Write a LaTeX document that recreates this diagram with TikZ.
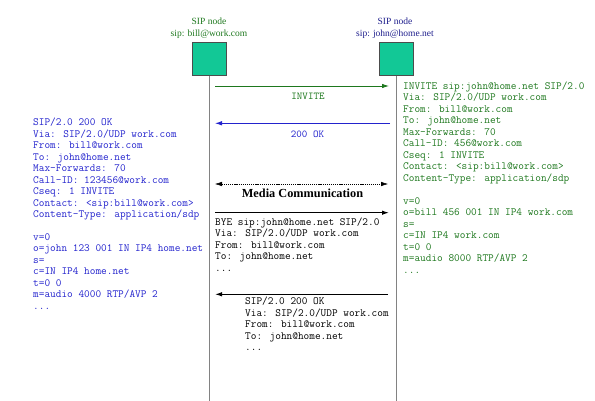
\documentclass[tikz,border=0pt]{standalone}
\usepackage{fontspec}
\setmainfont{Liberation Serif}
\usetikzlibrary{arrows.meta}
\definecolor{boxfill}{RGB}{18,200,150}
\definecolor{sipgreen}{RGB}{30,120,30}
\definecolor{sipblue}{RGB}{35,35,205}
\definecolor{labblue}{RGB}{30,30,140}
\definecolor{lifegray}{RGB}{130,130,130}
\newcommand\mydots{.\kern0pt.\kern0pt.}
\begin{document}
\begin{tikzpicture}[x=1pt,y=-1pt,
  sipbox/.style={draw=black!70, line width=0.6pt, fill=boxfill, minimum width=34pt, minimum height=33pt, inner sep=0pt},
  nodelabel/.style={font=\fontsize{9.5}{11}\selectfont, inner sep=0pt, anchor=base},
  code/.style={font=\fontsize{11}{12}\selectfont\ttfamily, inner sep=0pt, anchor=base west},
  msglabel/.style={font=\fontsize{10.5}{12}\selectfont\ttfamily, inner sep=0pt, anchor=base},
  lifeline/.style={draw=lifegray, line width=0.9pt},
  msg/.style={line width=0.8pt, -{Latex[length=7pt,width=4.5pt]}},
]
\useasboundingbox (0,0) rectangle (595,401);

% SIP nodes
\node[sipbox] (bill) at (209.5,59.3) {};
\node[sipbox] (john) at (396.3,59.3) {};
\node[nodelabel, text=sipgreen] (billtitle) at (209,25) {SIP node};
\node[nodelabel, text=sipgreen] (billaddr) at (209,36.5) {sip: bill@work.com};
\node[nodelabel, text=labblue] (johntitle) at (395,25) {SIP node};
\node[nodelabel, text=labblue] (johnaddr) at (395,36.5) {sip: john@home.net};

% lifelines
\coordinate (billend) at (209.5,401);
\coordinate (johnend) at (396.3,401);
\draw[lifeline] (bill.south) -- (billend);
\draw[lifeline] (john.south) -- (johnend);

% INVITE
\coordinate (inv1) at (215,86);
\coordinate (inv2) at (389,86);
\draw[msg, sipgreen] (inv1) -- (inv2);
\node[msglabel, text=sipgreen] (invlab) at (308,100) {INVITE};

% 200 OK
\coordinate (ok1) at (390,123.3);
\coordinate (ok2) at (215,123.3);
\draw[msg, sipblue] (ok1) -- (ok2);
\node[msglabel, text=sipblue] (oklab) at (307.5,137.5) {200 OK};

% Media communication
\coordinate (med1) at (215,184);
\coordinate (med2) at (388,184);
\draw[line width=0.45pt, dash pattern=on 1.2pt off 0.9pt, {Latex[length=7pt,width=4.5pt]}-{Latex[length=7pt,width=4.5pt]}] (med1) -- (med2);
\node[inner sep=0pt, anchor=base, font=\fontsize{12.3}{14}\selectfont\bfseries] (medlab) at (302.5,197.5) {Media Communication};

% BYE
\coordinate (bye1) at (215,212.7);
\coordinate (bye2) at (389,212.7);
\draw[msg, line width=1.1pt] (bye1) -- (bye2);
\foreach \t [count=\i from 0] in {BYE sip:john@home.net SIP/2.0, Via: SIP/2.0/UDP work.com, From: bill@work.com, To: john@home.net}
  \node[code] (bye\i) at (215,225.2+\i*11.5) {\t};
\node[code] (byedots) at (215,225.2+4*11.5) {\mydots};

% final 200 OK
\coordinate (fin1) at (388,294.3);
\coordinate (fin2) at (215,294.3);
\draw[msg, line width=1.1pt] (fin1) -- (fin2);
\foreach \t [count=\i from 0] in {SIP/2.0 200 OK, Via: SIP/2.0/UDP work.com, From: bill@work.com, To: john@home.net}
  \node[code] (fin\i) at (245,304.9+\i*11.5) {\t};
\node[code] (findots) at (245,304.9+4*11.5) {\mydots};

% left blue block (200 OK details)
\foreach \t [count=\i from 0] in {SIP/2.0 200 OK, Via: SIP/2.0/UDP work.com, From: bill@work.com, To: john@home.net, Max-Forwards: 70, Call-ID: 123456@work.com, Cseq: 1 INVITE, Contact: <sip:bill@work.com>, Content-Type: application/sdp}
  \node[code, text=sipblue] (lh\i) at (33,125.9+\i*11.46) {\t};
\foreach \t [count=\i from 10] in {v=0, o=john 123 001 IN IP4 home.net, s=, c=IN IP4 home.net, t=0 0, m=audio 4000 RTP/AVP 2}
  \node[code, text=sipblue] (ls\i) at (33,125.9+\i*11.46) {\t};
\node[code, text=sipblue] (lsdots) at (33,125.9+16*11.46) {\mydots};

% right green block (INVITE details)
\foreach \t [count=\i from 0] in {INVITE sip:john@home.net SIP/2.0, Via: SIP/2.0/UDP work.com, From: bill@work.com, To: john@home.net, Max-Forwards: 70, Call-ID: 456@work.com, Cseq: 1 INVITE, Contact: <sip:bill@work.com>, Content-Type: application/sdp}
  \node[code, text=sipgreen] (rh\i) at (403,89.2+\i*11.49) {\t};
\foreach \t [count=\i from 10] in {v=0, o=bill 456 001 IN IP4 work.com, s=, c=IN IP4 work.com, t=0 0, m=audio 8000 RTP/AVP 2}
  \node[code, text=sipgreen] (rs\i) at (403,89.2+\i*11.49) {\t};
\node[code, text=sipgreen] (rsdots) at (403,89.2+16*11.49) {\mydots};
\end{tikzpicture}
\end{document}
